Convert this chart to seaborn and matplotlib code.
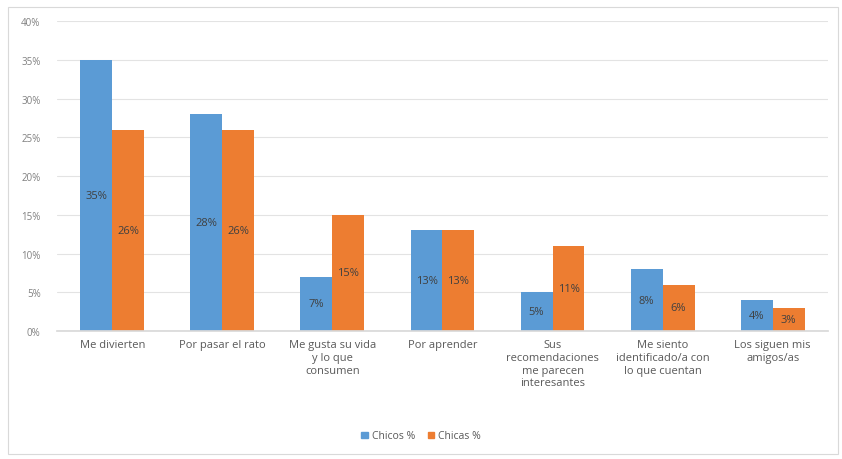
import matplotlib
matplotlib.use("Agg")
import matplotlib.pyplot as plt
import seaborn as sns
import pandas as pd
from matplotlib.patches import Rectangle

categories = [
    "Me divierten",
    "Por pasar el rato",
    "Me gusta su vida\ny lo que\nconsumen",
    "Por aprender",
    "Sus\nrecomendaciones\nme parecen\ninteresantes",
    "Me siento\nidentificado/a con\nlo que cuentan",
    "Los siguen mis\namigos/as",
]
chicos = [35, 28, 7, 13, 5, 8, 4]
chicas = [26, 26, 15, 13, 11, 6, 3]
series_names = ["Chicos %", "Chicas %"]
yticks = [0, 5, 10, 15, 20, 25, 30, 35, 40]

df = pd.DataFrame({
    "cat": categories * 2,
    "val": chicos + chicas,
    "serie": [series_names[0]] * len(categories) + [series_names[1]] * len(categories),
})

sns.set_theme(style="white")
plt.rcParams["font.family"] = ["Open Sans", "DejaVu Sans"]

fig = plt.figure(figsize=(8.42, 4.60), dpi=100)
ax = fig.add_axes([0.068, 0.278, 0.915, 0.674])

palette = {"Chicos %": "#5B9BD5", "Chicas %": "#ED7D31"}
sns.barplot(data=df, x="cat", y="val", hue="serie", palette=palette,
            width=0.58, ax=ax, saturation=1, legend=False, linewidth=0, gap=0)

ax.set_ylim(0, 40)
ax.set_yticks(yticks)
ax.set_yticklabels([f"{t}%" for t in yticks], fontsize=7, color="#808080")
ax.yaxis.grid(True, color="#E3E3E3", linewidth=0.8)
ax.set_axisbelow(True)
ax.set_xlabel("")
ax.set_ylabel("")
ax.tick_params(axis="x", labelsize=8, colors="#595959", length=0, pad=6)
ax.tick_params(axis="y", length=0, pad=12)
for s in ["top", "right", "left"]:
    ax.spines[s].set_visible(False)
ax.spines["bottom"].set_color("#D9D9D9")
ax.set_xlim(-0.5, len(categories) - 0.5)

for cont in ax.containers:
    labels = [f"{int(round(b.get_height()))}%" for b in cont]
    ax.bar_label(cont, labels=labels, label_type="center", fontsize=8, color="#404040")

handles = [Rectangle((0, 0), 1, 1, color=palette[s]) for s in series_names]
fig.legend(handles, series_names, loc="center", bbox_to_anchor=(0.5, 0.05), ncol=2,
           frameon=False, fontsize=7.5, handlelength=0.6, handleheight=0.6,
           handletextpad=0.4, columnspacing=1.2, labelcolor="#595959")

fig.patches.append(Rectangle((0.01, 0.01), 0.985, 0.972, transform=fig.transFigure,
                             fill=False, edgecolor="#D9D9D9", linewidth=0.8))

fig.savefig("out.png", dpi=100, facecolor="white")
